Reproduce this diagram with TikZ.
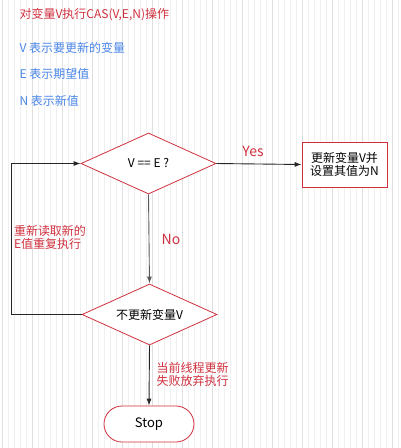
\documentclass[tikz,border=0pt]{standalone}
\usepackage{fontspec}
\setmainfont{Noto Sans CJK SC}
\usetikzlibrary{arrows.meta}
\usetikzlibrary{shapes.geometric}
\definecolor{casred}{RGB}{208,49,63}
\definecolor{casblue}{RGB}{74,134,232}
\begin{document}
\begin{tikzpicture}[
  x=1pt,
  y=-1pt,
  font=\fontsize{12}{13}\selectfont,
  flow/.style={-{Latex[length=7pt,width=5pt]},line width=0.9pt,black!85},
  decision/.style={
    diamond,
    draw=casred,
    line width=0.8pt,
    fill=white,
    minimum width=135,
    minimum height=61,
    aspect=2.2,
    inner sep=0},
  act/.style 2 args={
    rectangle,
    draw=casred,
    line width=0.8pt,
    fill=white,
    minimum width=#1,
    minimum height=#2,
    align=center},
  note/.style={text=casred,align=left}]
  \useasboundingbox (0,0) rectangle (401,448);
  % background grid
  \draw[black!6,line width=0.5pt,step=6,shift={(2,16)}] (-2,-16) grid (399,432);
  \draw[black!12,line width=0.5pt,step=30,shift={(2,16)}] (-2,-16) grid (399,432);
  % header texts
  \node[anchor=west,text=casred] (title) at (16,15) {对变量V执行CAS(V,E,N)操作};
  \foreach \t [count=\i] in {V 表示要更新的变量,E 表示期望值,N 表示新值}
    \node[anchor=west,text=casblue] (legend\i) at (16, 21+26.5*\i) {\t};
  % draw flow nodes
  \node[decision] (check) at (148.5,163.5) {V == E ?};
  \node[act={85}{45}] (update) at (344.5,164.5) {更新变量V并\\设置其值为N};
  \node[decision] (skip) at (149.5,314.5) {不更新变量V};
  \node[act={90}{36},rounded corners=18,font=\fontsize{13}{15}\selectfont] (stop) at (149,424) {Stop};
  \coordinate (turn) at (11,314.5);
  % draw connectors
  \draw[flow] (check.east) -- (update.west);
  \draw[flow,black!65] (check.south) -- (skip.north);
  \draw[flow] (skip.west) -- (turn) |- (check.west);
  \draw[flow] (skip.south) -- (stop.north);
  % connector labels
  \node[text=casred,font=\fontsize{14}{16}\selectfont] (yes) at (253,151) {Yes};
  \node[text=casred,font=\fontsize{14}{16}\selectfont] (no) at (171,239) {No};
  \node[note] (retry) at (50,237.5) {重新读取新的\\E值重复执行};
  \node[note] (fail) at (192.5,374.5) {当前线程更新\\失败放弃执行};
\end{tikzpicture}
\end{document}
